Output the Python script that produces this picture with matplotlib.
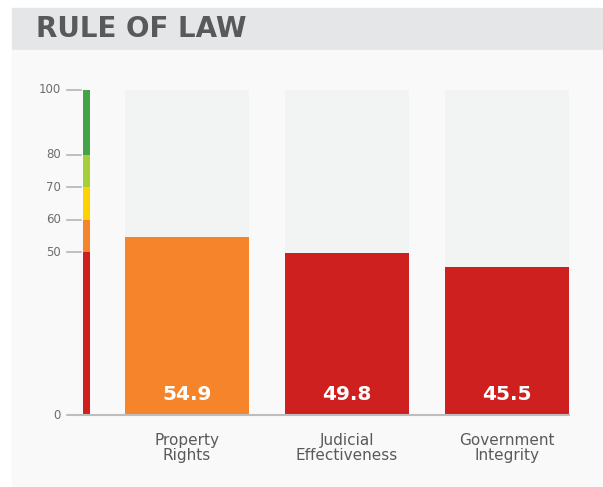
import matplotlib.pyplot as plt
from matplotlib.patches import Rectangle

categories = ["Property\nRights", "Judicial\nEffectiveness", "Government\nIntegrity"]
scores = [54.9, 49.8, 45.5]
ticks = [0, 50, 60, 70, 80, 100]
# scale bands: (low, high, colour)
band_lo = [0, 50, 60, 70, 80]
band_hi = [50, 60, 70, 80, 100]
band_colors = ["#cd201f", "#f5842b", "#fed100", "#a6ce39", "#43a347"]

W, H = 603, 487
fig = plt.figure(figsize=(W / 100, H / 100), dpi=100)
fig.patch.set_facecolor("white")

# header band and panel
fig.patches.append(Rectangle((12 / W, 1 - 50 / H), 1 - 12 / W, 42 / H,
                             transform=fig.transFigure, color="#e5e6e7", zorder=-2))
fig.patches.append(Rectangle((12 / W, 0), 1 - 12 / W, 1 - 50 / H,
                             transform=fig.transFigure, color="#f9f9f9", zorder=-2))
fig.text(36 / W, 1 - 29 / H, "RULE OF LAW", fontsize=20, fontweight="bold",
         color="#58595b", va="center", ha="left")

ax = fig.add_axes([12 / W, 0, 1 - 12 / W, 1 - 50 / H])
ax.set_zorder(1)
ax.set_xlim((12 - 187) / 160, (603 - 187) / 160)
ax.set_ylim(-22.15, 112.3)
ax.axis("off")


def color_for(v):
    for lo, hi, c in zip(band_lo, band_hi, band_colors):
        if lo <= v < hi:
            return c
    return band_colors[-1]


x = list(range(len(categories)))
width = 0.775

# background bars
ax.bar(x, [100] * len(x), width=width, color="#f2f3f3", zorder=1)
ax.bar(x, scores, width=width, color=[color_for(v) for v in scores], zorder=2)

for xi, v, lab in zip(x, scores, categories):
    ax.text(xi, 6.2, f"{v:.1f}", ha="center", va="center", color="white",
            fontsize=14.5, fontweight="bold", zorder=3)
    ax.text(xi, -10.2, lab, ha="center", va="center", color="#5a5a5a",
            fontsize=11, linespacing=1.05)

# colour scale bar
sx = (86.5 - 187) / 160
ax.bar([sx] * len(band_lo), [h - l for l, h in zip(band_lo, band_hi)],
       bottom=band_lo, width=7 / 160, color=band_colors, zorder=2)

# ticks
for t in ticks:
    ax.plot([(67 - 187) / 160, (81 - 187) / 160], [t, t], color="#b5b5b5", lw=1.2)
    ax.text((61 - 187) / 160, t, str(t), ha="right", va="center",
            color="#6d6d6d", fontsize=8.5)

# baseline
ax.plot([(68 - 187) / 160, (569 - 187) / 160], [0, 0], color="#bdbdbd", lw=1.5, zorder=4)

fig.savefig("out.png", dpi=100)
